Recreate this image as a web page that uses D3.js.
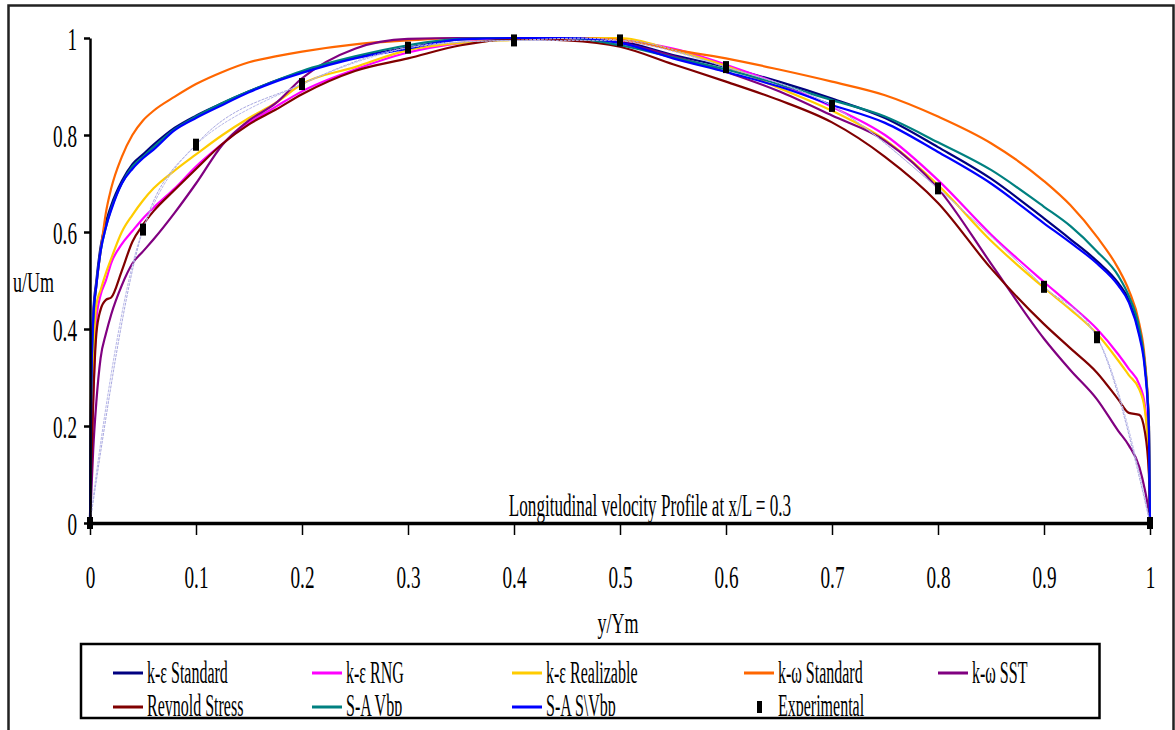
<!DOCTYPE html>
<html>
<head>
<meta charset="utf-8">
<script src="https://cdn.jsdelivr.net/npm/d3@7"></script>
<style>
  html, body { margin: 0; padding: 0; background: #fff; }
  svg { display: block; }
  text { font-family: "Liberation Serif", "Times New Roman", serif; fill: #000; }
</style>
</head>
<body>
<svg id="chart" width="1175" height="730"></svg>
<script>
// ---------------- data ----------------
const yPos = [0, 0.001, 0.003, 0.006, 0.01, 0.015, 0.02, 0.03, 0.04, 0.05, 0.06, 0.08, 0.1, 0.125, 0.15, 0.175, 0.2, 0.25, 0.3, 0.35, 0.4, 0.45, 0.5, 0.55, 0.6, 0.65, 0.7, 0.75, 0.8, 0.85, 0.9, 0.925, 0.95, 0.97, 0.98, 0.99, 0.995, 0.999, 1];

const keStandard   = [0, 0.26, 0.43, 0.50, 0.57, 0.62, 0.655, 0.705, 0.74, 0.76, 0.78, 0.815, 0.84, 0.866, 0.89, 0.912, 0.93, 0.96, 0.98, 0.997, 1.0, 1.0, 0.993, 0.965, 0.94, 0.91, 0.875, 0.835, 0.775, 0.71, 0.628, 0.585, 0.54, 0.495, 0.46, 0.39, 0.33, 0.2, 0];
const keRNG        = [0, 0.1, 0.25, 0.42, 0.47, 0.50, 0.536, 0.575, 0.602, 0.628, 0.65, 0.69, 0.735, 0.782, 0.825, 0.858, 0.89, 0.935, 0.97, 0.99, 1.0, 1.0, 0.995, 0.978, 0.945, 0.905, 0.858, 0.8, 0.707, 0.595, 0.497, 0.45, 0.4, 0.348, 0.318, 0.285, 0.245, 0.12, 0];
const keRealizable = [0, 0.15, 0.33, 0.45, 0.48, 0.515, 0.545, 0.6, 0.635, 0.665, 0.69, 0.727, 0.76, 0.8, 0.835, 0.866, 0.905, 0.94, 0.975, 0.99, 0.996, 1.0, 1.0, 0.975, 0.942, 0.897, 0.85, 0.79, 0.697, 0.582, 0.485, 0.44, 0.39, 0.335, 0.305, 0.275, 0.235, 0.12, 0];
const kwStandard   = [0, 0.3, 0.42, 0.49, 0.56, 0.64, 0.69, 0.755, 0.80, 0.83, 0.85, 0.879, 0.905, 0.93, 0.95, 0.962, 0.972, 0.987, 0.995, 1.0, 1.0, 1.0, 0.996, 0.976, 0.958, 0.935, 0.91, 0.882, 0.838, 0.783, 0.705, 0.655, 0.59, 0.525, 0.48, 0.41, 0.34, 0.2, 0];
const kwSST        = [0, 0.05, 0.15, 0.25, 0.34, 0.39, 0.43, 0.49, 0.535, 0.56, 0.585, 0.64, 0.7, 0.78, 0.83, 0.865, 0.917, 0.978, 0.998, 1.0, 1.0, 1.0, 0.99, 0.963, 0.93, 0.89, 0.84, 0.788, 0.69, 0.535, 0.38, 0.315, 0.255, 0.19, 0.16, 0.115, 0.07, 0.02, 0];
const reynoldStress= [0, 0.1, 0.25, 0.39, 0.44, 0.46, 0.465, 0.52, 0.58, 0.615, 0.643, 0.687, 0.73, 0.782, 0.822, 0.852, 0.884, 0.932, 0.958, 0.985, 0.998, 0.995, 0.982, 0.946, 0.91, 0.872, 0.826, 0.755, 0.66, 0.525, 0.41, 0.36, 0.31, 0.255, 0.227, 0.223, 0.19, 0.1, 0];
const saVbp        = [0, 0.24, 0.41, 0.49, 0.56, 0.61, 0.648, 0.70, 0.735, 0.755, 0.775, 0.812, 0.838, 0.866, 0.89, 0.912, 0.932, 0.962, 0.985, 0.998, 1.0, 1.0, 0.985, 0.96, 0.935, 0.905, 0.872, 0.838, 0.785, 0.728, 0.652, 0.612, 0.56, 0.51, 0.468, 0.40, 0.33, 0.2, 0];
const saSVbp       = [0, 0.25, 0.42, 0.49, 0.56, 0.61, 0.645, 0.70, 0.73, 0.752, 0.77, 0.81, 0.835, 0.862, 0.888, 0.91, 0.928, 0.958, 0.978, 0.997, 1.0, 1.0, 0.99, 0.958, 0.93, 0.9, 0.862, 0.825, 0.765, 0.7, 0.618, 0.578, 0.535, 0.49, 0.455, 0.385, 0.32, 0.19, 0];

const expY = [0, 0.05, 0.1, 0.2, 0.3, 0.4, 0.5, 0.6, 0.7, 0.8, 0.9, 0.95, 1];
const expU = [0, 0.605, 0.78, 0.905, 0.98, 0.995, 0.995, 0.94, 0.86, 0.69, 0.487, 0.383, 0];

const seriesNames  = ["k-ε Standard", "k-ε RNG", "k-ε Realizable", "k-ω Standard", "k-ω SST", "Reynold Stress", "S-A Vbp", "S-A S\\Vbp"];
const seriesValues = [keStandard, keRNG, keRealizable, kwStandard, kwSST, reynoldStress, saVbp, saSVbp];
const seriesColors = ["#000080", "#FF00FF", "#FFCC00", "#FF6600", "#800080", "#800000", "#008080", "#0000FF"];
const expName = "Experimental";

const xTicks = [0, 0.1, 0.2, 0.3, 0.4, 0.5, 0.6, 0.7, 0.8, 0.9, 1];
const yTicks = [0, 0.2, 0.4, 0.6, 0.8, 1];
const titleText = "Longitudinal velocity Profile at x/L = 0.3";
const xLabel = "y/Ym";
const yLabel = "u/Um";

// ---------------- drawing ----------------
const svg = d3.select("#chart");
const x = d3.scaleLinear().domain([0, 1]).range([90, 1150]);
const y = d3.scaleLinear().domain([0, 1]).range([523, 38]);

function label(parent, px, py, txt, anchor, size, sx) {
  return parent.append("text")
    .attr("transform", `translate(${px},${py}) scale(${sx},1)`)
    .attr("text-anchor", anchor)
    .attr("font-size", size)
    .text(txt);
}

// outer frame
svg.append("rect").attr("x", 8.5).attr("y", 5.5).attr("width", 1165).attr("height", 800)
  .attr("fill", "none").attr("stroke", "#222").attr("stroke-width", 2.5);

// series lines
const line = d3.line().x((d, i) => x(yPos[i])).y(d => y(d)).curve(d3.curveMonotoneX);
const linesG = svg.append("g");
seriesValues.forEach((vals, k) => {
  linesG.append("path").datum(vals).attr("d", line)
    .attr("fill", "none").attr("stroke", seriesColors[k])
    .attr("stroke-width", 2.2).attr("stroke-linejoin", "round");
});

// experimental trend lines (thin lavender)
const expPts = expY.map((v, i) => [v, expU[i]]);
const expLine1 = d3.line().x(d => x(d[0])).y(d => y(d[1])).curve(d3.curveMonotoneX);
const expLine2 = d3.line().x(d => x(d[0])).y(d => y(d[1])).curve(d3.curveCatmullRom.alpha(0.5));
svg.append("path").datum(expPts).attr("d", expLine1).attr("fill", "none")
  .attr("stroke", "#a8a8e0").attr("stroke-width", 1).attr("stroke-dasharray", "3,1");
svg.append("path").datum(expPts).attr("d", expLine2).attr("fill", "none")
  .attr("stroke", "#b8b8e8").attr("stroke-width", 1).attr("stroke-dasharray", "3,1");

// axes
const yAxis = svg.append("g").attr("transform", "translate(90,0)")
  .call(d3.axisLeft(y).tickValues(yTicks).tickSize(6).tickSizeOuter(0).tickFormat(d3.format("")));
yAxis.select(".domain").attr("stroke", "#000").attr("stroke-width", 2.5);
yAxis.selectAll(".tick line").attr("stroke", "#000").attr("stroke-width", 2.5);
yAxis.selectAll(".tick text").remove();
yAxis.selectAll(".tick").each(function(d) {
  label(d3.select(this), -13, 11, d3.format("")(d), "end", 32, 0.6);
});

const xAxis = svg.append("g").attr("transform", "translate(0,523)")
  .call(d3.axisBottom(x).tickValues(xTicks).tickSize(12).tickSizeOuter(0).tickFormat(d3.format("")));
xAxis.select(".domain").attr("stroke", "#000").attr("stroke-width", 3.5);
xAxis.selectAll(".tick line").attr("stroke", "#000").attr("stroke-width", 1.5);
xAxis.selectAll(".tick text").remove();
xAxis.selectAll(".tick").each(function(d) {
  label(d3.select(this), 0, 65, d3.format("")(d), "middle", 32, 0.6);
});

// experimental markers
svg.append("g").selectAll("rect").data(expPts).join("rect")
  .attr("x", d => x(d[0]) - 3).attr("y", d => y(d[1]) - 6)
  .attr("width", 6).attr("height", 12).attr("fill", "#000");

// texts
label(svg, 650, 516, titleText, "middle", 32, 0.535);
label(svg, 618, 633, xLabel, "middle", 30, 0.6);
label(svg, 13, 292, yLabel, "start", 30, 0.6);

// legend
const legX0 = 81, legY0 = 644, legW = 1018.5, legH = 74;
svg.append("defs").append("clipPath").attr("id", "legclip")
  .append("rect").attr("x", legX0).attr("y", legY0).attr("width", legW).attr("height", legH - 2);
const leg = svg.append("g").attr("clip-path", "url(#legclip)");
svg.append("rect").attr("x", legX0).attr("y", legY0).attr("width", legW).attr("height", legH)
  .attr("fill", "none").attr("stroke", "#000").attr("stroke-width", 2.5);

const colX = [113, 312, 512, 744, 938];
const rowY = [673, 707];
const rowBase = [683, 716];
const legendItems = seriesNames.map((n, i) => ({ name: n, color: seriesColors[i] }));
legendItems.push({ name: expName, color: null });
legendItems.forEach((it, i) => {
  const col = i % 5, row = Math.floor(i / 5);
  const lx = colX[col];
  if (it.color) {
    leg.append("line").attr("x1", lx).attr("x2", lx + 30).attr("y1", rowY[row]).attr("y2", rowY[row])
      .attr("stroke", it.color).attr("stroke-width", 3);
  } else {
    leg.append("rect").attr("x", lx + 13).attr("y", rowY[row] - 6).attr("width", 5).attr("height", 12).attr("fill", "#000");
  }
  label(leg, lx + 34, rowBase[row], it.name, "start", 32, 0.5);
});
</script>
</body>
</html>
